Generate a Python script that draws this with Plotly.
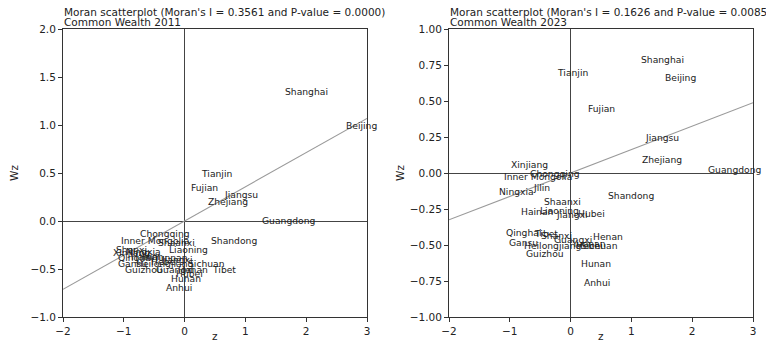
import plotly.graph_objects as go

# ---- data: 2011 ----
names_2011 = ["Shanghai", "Beijing", "Tianjin", "Fujian", "Jiangsu", "Zhejiang", "Guangdong",
              "Shandong", "Chongqing", "Inner Mongolia", "Shaanxi", "Xinjiang", "Shanxi", "Ningxia",
              "Liaoning", "Qinghai", "Hainan", "Jilin", "Yunnan", "Jiangxi", "Gansu", "Heilongjiang",
              "Hebei", "Sichuan", "Guizhou", "Guangxi", "Henan", "Tibet", "Hubei", "Hunan", "Anhui"]
z_2011 = [1.635, 2.638, 0.253, 0.089, 0.632, 0.368, 1.257,
          0.418, -0.750, -1.062, -0.454, -1.194, -1.145, -0.980,
          -0.273, -1.112, -0.898, -0.734, -0.536, -0.405, -1.112, -0.816,
          -0.569, 0.039, -0.997, -0.487, -0.125, 0.434, -0.158, -0.240, -0.322]
wz_2011 = [1.354, 1.000, 0.500, 0.344, 0.271, 0.198, 0.005,
           -0.208, -0.125, -0.208, -0.219, -0.323, -0.302, -0.313,
           -0.302, -0.385, -0.365, -0.365, -0.375, -0.396, -0.438, -0.438,
           -0.417, -0.438, -0.510, -0.510, -0.510, -0.510, -0.542, -0.604, -0.688]
moran_I_2011 = 0.3561
p_value_2011 = 0.0000

# ---- data: 2023 ----
names_2023 = ["Shanghai", "Beijing", "Tianjin", "Fujian", "Jiangsu", "Zhejiang", "Guangdong",
              "Shandong", "Xinjiang", "Inner Mongolia", "Chongqing", "Ningxia", "Jilin", "Shaanxi",
              "Hainan", "Liaoning", "Jiangxi", "Hubei", "Qinghai", "Tibet", "Shanxi", "Guangxi",
              "Henan", "Gansu", "Heilongjiang", "Yunnan", "Hebei", "Sichuan", "Guizhou", "Hunan", "Anhui"]
z_2023 = [1.141, 1.536, -0.240, 0.270, 1.207, 1.158, 2.243,
          0.599, -0.997, -1.112, -0.684, -1.194, -0.635, -0.454,
          -0.832, -0.520, -0.257, 0.105, -1.079, -0.618, -0.503, -0.289,
          0.352, -1.030, -0.783, -0.010, 0.072, 0.155, -0.750, 0.155, 0.204]
wz_2023 = [0.785, 0.660, 0.701, 0.451, 0.250, 0.097, 0.021,
           -0.153, 0.056, -0.021, 0.000, -0.125, -0.104, -0.201,
           -0.264, -0.257, -0.285, -0.278, -0.410, -0.417, -0.431, -0.465,
           -0.444, -0.486, -0.500, -0.493, -0.500, -0.500, -0.556, -0.625, -0.757]
moran_I_2023 = 0.1626
p_value_2023 = 0.0085

x_ticks = [-2, -1, 0, 1, 2, 3]
y_ticks_2011 = [-1.0, -0.5, 0.0, 0.5, 1.0, 1.5, 2.0]
y_ticks_2023 = [-1.00, -0.75, -0.50, -0.25, 0.00, 0.25, 0.50, 0.75, 1.00]

OFF = 8                       # page body margin in the browser
W, H = 774 - OFF, 344 - OFF   # figure size so it fits the window
FONT = "DejaVu Sans"
TXT = "#222222"

fig = go.Figure()

# regression lines (slope = Moran's I)
for xa, ya, I in [("x", "y", moran_I_2011), ("x2", "y2", moran_I_2023)]:
    xs = [x_ticks[0], x_ticks[-1]]
    fig.add_trace(go.Scatter(x=xs, y=[I * v for v in xs], mode="lines",
                             line=dict(color="#9a9a9a", width=1.1),
                             xaxis=xa, yaxis=ya, showlegend=False, hoverinfo="skip"))

annotations = []
for names, zs, wzs, xr, yr in [(names_2011, z_2011, wz_2011, "x", "y"),
                               (names_2023, z_2023, wz_2023, "x2", "y2")]:
    for n, zv, wv in zip(names, zs, wzs):
        annotations.append(dict(x=zv, y=wv, xref=xr, yref=yr, text=n, showarrow=False,
                                xanchor="left", yanchor="middle", borderpad=0,
                                font=dict(family=FONT, size=9.2, color=TXT)))

# domains from window pixel positions
def px_x(p):
    return (p - OFF) / W

def px_y(p):
    return 1 - (p - OFF) / H

dom_y = [px_y(317), px_y(29)]
dom_x1 = [px_x(63), px_x(367)]
dom_x2 = [px_x(449), px_x(753)]

titles = [
    (dom_x1[0], "Moran scatterplot (Moran's I = %.4f and P-value = %.4f)" % (moran_I_2011, p_value_2011), "Common Wealth 2011"),
    (dom_x2[0], "Moran scatterplot (Moran's I = %.4f and P-value = %.4f)" % (moran_I_2023, p_value_2023), "Common Wealth 2023"),
]
for xp, t1, t2 in titles:
    for t, yp in ((t1, 12.5), (t2, 22.5)):
        annotations.append(dict(x=xp, y=px_y(yp), xref="paper", yref="paper", text=t, showarrow=False,
                                xanchor="left", yanchor="middle", align="left", borderpad=0,
                                font=dict(family=FONT, size=10.5, color=TXT)))

# axis titles
for dx in (dom_x1, dom_x2):
    annotations.append(dict(x=(dx[0] + dx[1]) / 2, y=px_y(336), xref="paper", yref="paper", text="z",
                            showarrow=False, xanchor="center", yanchor="middle",
                            font=dict(family=FONT, size=10.5, color=TXT)))
for xp in (px_x(14), px_x(400)):
    annotations.append(dict(x=xp, y=(dom_y[0] + dom_y[1]) / 2, xref="paper", yref="paper", text="Wz",
                            showarrow=False, xanchor="center", yanchor="middle", textangle=-90,
                            font=dict(family=FONT, size=10.5, color=TXT)))

axis_common = dict(showgrid=False, showline=True, mirror=True, linecolor="#333333", linewidth=1,
                   ticks="outside", ticklen=4, tickcolor="#333333", tickwidth=1,
                   zeroline=True, zerolinecolor="#444444", zerolinewidth=1.2, automargin=False,
                   tickfont=dict(family=FONT, size=10.5, color=TXT))

fig.update_layout(
    template="none",
    width=W, height=H,
    margin=dict(l=0, r=0, t=0, b=0, pad=0),
    paper_bgcolor="white", plot_bgcolor="white",
    showlegend=False,
    xaxis=dict(domain=dom_x1, range=[-2, 3], tickvals=x_ticks, anchor="y", **axis_common),
    yaxis=dict(domain=dom_y, range=[-1, 2], tickvals=y_ticks_2011, tickformat=".1f", anchor="x", **axis_common),
    xaxis2=dict(domain=dom_x2, range=[-2, 3], tickvals=x_ticks, anchor="y2", **axis_common),
    yaxis2=dict(domain=dom_y, range=[-1, 1], tickvals=y_ticks_2023, tickformat=".2f", anchor="x2", **axis_common),
    annotations=annotations,
)

fig.write_html("out.html")
